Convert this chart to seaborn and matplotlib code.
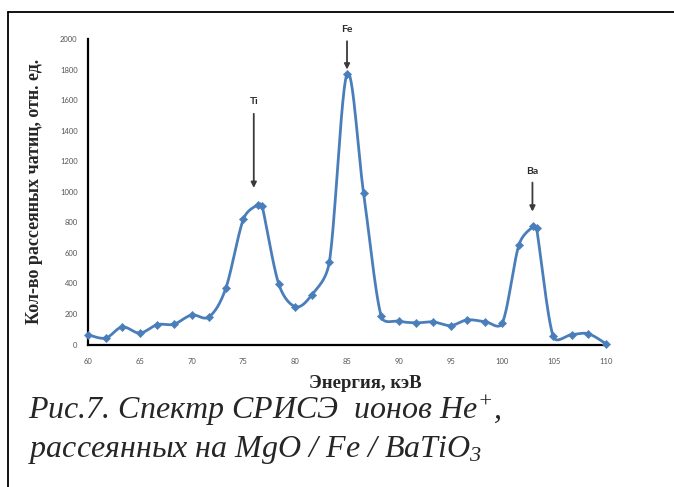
import numpy as np
import pandas as pd
import matplotlib.pyplot as plt
from matplotlib.lines import Line2D
import seaborn as sns

# energy (keV) and scattered ion counts
energy = [60, 61.7, 63.3, 65, 66.7, 68.3, 70, 71.7, 73.3, 75, 76.4, 76.8,
          78.4, 80, 81.6, 83.3, 85, 86.6, 88.3, 90, 91.7, 93.3, 95, 96.6,
          98.3, 100, 101.6, 103.0, 103.3, 104.9, 106.7, 108.3, 110]
counts = [64, 42, 115, 75, 130, 133, 193, 182, 368, 821, 915, 908,
          398, 248, 325, 542, 1769, 991, 185, 152, 142, 148, 124, 161,
          150, 142, 653, 773, 760, 54, 65, 70, 5]

# peak labels: element, arrow x, label y, arrow tail y, arrow tip y
peak_names = ['Ti', 'Fe', 'Ba']
peak_x = [76.0, 85.0, 102.9]
peak_label_y = [1590, 2065, 1135]
peak_tail_y = [1510, 1985, 1060]
peak_tip_y = [1025, 1800, 870]

x_ticks = list(range(60, 111, 5))
y_ticks = list(range(0, 2001, 200))

LINE_COLOR = '#4A7EBB'


def smooth_curve(xs, ys, sx, sy, n=24):
    # Excel-like smoothed line (Catmull-Rom Bezier) in screen-like units,
    # handles clamped so that very close points do not loop
    p = np.column_stack([np.asarray(xs) * sx, np.asarray(ys) * sy])
    m = len(p)
    t = np.linspace(0, 1, n, endpoint=False)[:, None]
    out = []
    for i in range(m - 1):
        p0 = p[max(i - 1, 0)]
        p1, p2 = p[i], p[i + 1]
        p3 = p[min(i + 2, m - 1)]
        L = np.linalg.norm(p2 - p1)
        h1 = (p2 - p0) / 6
        h2 = (p3 - p1) / 6
        lim = 0.5 * L
        if np.linalg.norm(h1) > lim:
            h1 = h1 / np.linalg.norm(h1) * lim
        if np.linalg.norm(h2) > lim:
            h2 = h2 / np.linalg.norm(h2) * lim
        c1 = p1 + h1
        c2 = p2 - h2
        seg = ((1 - t) ** 3) * p1 + 3 * ((1 - t) ** 2) * t * c1 \
            + 3 * (1 - t) * t ** 2 * c2 + t ** 3 * p2
        out.append(seg)
    out.append(p[-1][None, :])
    out = np.vstack(out)
    return out[:, 0] / sx, out[:, 1] / sy


sns.set_style('white')
plt.rcParams['font.family'] = ['Lato', 'DejaVu Sans']
plt.rcParams['mathtext.fontset'] = 'custom'
plt.rcParams['mathtext.rm'] = 'Liberation Serif:italic'
plt.rcParams['mathtext.it'] = 'Liberation Serif:italic'

fig = plt.figure(figsize=(6.74, 4.87), dpi=100)
ax = fig.add_axes([0.1306, 0.2926, 0.7685, 0.6274])

df = pd.DataFrame({'energy': energy, 'counts': counts})
cx, cy = smooth_curve(energy, counts, 10.36, 0.1523)
curve = pd.DataFrame({'energy': cx, 'counts': cy})

sns.lineplot(data=curve, x='energy', y='counts', sort=False, color=LINE_COLOR,
             linewidth=2.0, ax=ax, zorder=2)
sns.scatterplot(data=df, x='energy', y='counts', marker='D', s=18,
                color=LINE_COLOR, edgecolor=LINE_COLOR, ax=ax, zorder=3,
                clip_on=False)

ax.set_xlim(60, 110)
ax.set_ylim(0, 2000)
ax.set_xticks(x_ticks)
ax.set_yticks(y_ticks)
ax.tick_params(axis='both', labelsize=5.5, labelcolor='#555555', colors='black')
ax.tick_params(axis='y', direction='out', length=3.5, width=1.2, pad=4)
ax.tick_params(axis='x', direction='inout', length=3, width=1.2, pad=8)

for side in ['top', 'right']:
    ax.spines[side].set_visible(False)
for side in ['left', 'bottom']:
    ax.spines[side].set_color('black')
    ax.spines[side].set_linewidth(1.6)

ax.set_xlabel('')
ax.set_ylabel('Кол-во рассеяных чатиц, отн. ед.', family='Liberation Serif',
              fontweight='bold', fontsize=13, labelpad=12)
fig.text(365 / 674, 1 - 384 / 487, 'Энергия, кэВ', family='Liberation Serif',
         fontweight='bold', fontsize=13.5, ha='center', va='center')

for name, px, ly, ty, tip in zip(peak_names, peak_x, peak_label_y, peak_tail_y, peak_tip_y):
    ax.text(px, ly, name, ha='center', va='center', fontsize=7.5,
            fontweight='bold', color='#2b2b2b', clip_on=False)
    ax.annotate('', xy=(px, tip), xytext=(px, ty), annotation_clip=False,
                arrowprops=dict(arrowstyle='-|>', color='#3a3a3a', lw=1.3,
                                mutation_scale=8, shrinkA=0, shrinkB=0))

# page frame around the figure
fig.add_artist(Line2D([7.5 / 674, 1], [1 - 11.5 / 487, 1 - 11.5 / 487],
                      transform=fig.transFigure, color='black', lw=1.3))
fig.add_artist(Line2D([7.5 / 674, 7.5 / 674], [0, 1 - 11.5 / 487],
                      transform=fig.transFigure, color='black', lw=1.3))

fig.text(28 / 674, 1 - 411 / 487, 'Рис.7. Спектр СРИСЭ  ионов He$^{+}$,',
         family='Liberation Serif', style='italic', fontsize=23, va='center',
         ha='left')
fig.text(28 / 674, 1 - 450 / 487, 'рассеянных на MgO / Fe / BaTiO$_{3}$',
         family='Liberation Serif', style='italic', fontsize=23, va='center',
         ha='left')

fig.savefig('out.png', dpi=100)
